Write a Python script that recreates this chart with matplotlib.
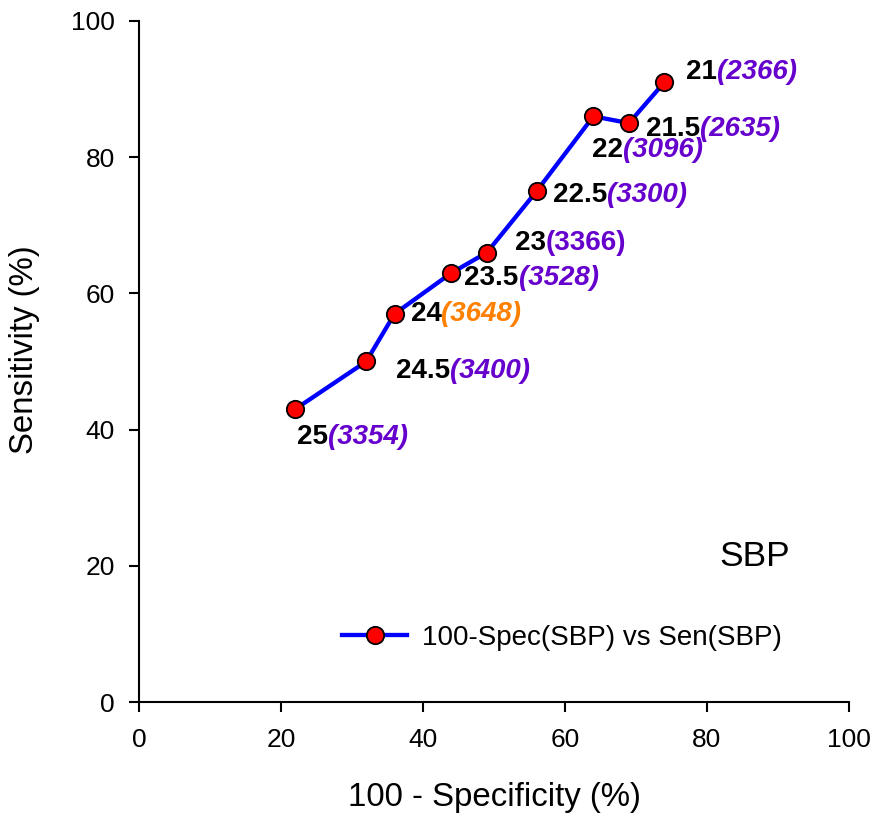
import matplotlib
matplotlib.use("Agg")
import matplotlib.pyplot as plt

plt.rcParams['font.family'] = ['Liberation Sans', 'DejaVu Sans']

spec = [22, 32, 36, 44, 49, 56, 64, 69, 74]
sens = [43, 50, 57, 63, 66, 75, 86, 85, 91]
cutoffs = ['25', '24.5', '24', '23.5', '23', '22.5', '22', '21.5', '21']
counts = ['3354', '3400', '3648', '3528', '3366', '3300', '3096', '2635', '2366']

purple = '#6600CC'
orange = '#FF8000'
count_colors = [purple, purple, orange, purple, purple, purple, purple, purple, purple]
count_styles = ['italic', 'italic', 'italic', 'italic', 'normal', 'italic', 'italic', 'italic', 'italic']
# label offsets (pixels) from each point
offsets = [(2, -28), (30, -10), (16, 0), (13, -5), (28, 10), (16, -4), (-1, -34), (17, -6), (22, 10)]

fig = plt.figure(figsize=(8.72, 8.16), dpi=100)
ax = fig.add_axes([0.1594, 0.1397, 0.8142, 0.8346])

ax.plot(spec, sens, color='blue', lw=3.1, marker='o', ms=12.5, mfc='red',
        mec='black', mew=1.3, label='100-Spec(SBP) vs Sen(SBP)', zorder=3)

for x, y, c, n, col, sty, off in zip(spec, sens, cutoffs, counts, count_colors, count_styles, offsets):
    t1 = ax.annotate(c, xy=(x, y), xytext=off, textcoords='offset pixels',
                     ha='left', va='center', fontsize=20, fontweight='bold', color='black')
    ax.annotate('(' + n + ')', xy=(1, 0), xycoords=t1, ha='left', va='bottom',
                fontsize=20, fontweight='bold', style=sty, color=col)

ax.text(0.818, 0.2, 'SBP', transform=ax.transAxes, fontsize=25.5, ha='left', va='baseline')

ax.set_xlim(0, 100)
ax.set_ylim(0, 100)
ax.set_xticks(range(0, 101, 20))
ax.set_yticks(range(0, 101, 20))
ax.spines['top'].set_visible(False)
ax.spines['right'].set_visible(False)
for s in ['left', 'bottom']:
    ax.spines[s].set_linewidth(1.5)
ax.tick_params(direction='out', length=7.5, width=1.5, labelsize=19)
ax.tick_params(axis='x', pad=11)
ax.tick_params(axis='y', pad=10)

ax.set_xlabel('100 - Specificity (%)', fontsize=23.8, labelpad=22)
ax.set_ylabel('Sensitivity (%)', fontsize=23.8)
ax.yaxis.set_label_coords(-0.139, 0.517)

ax.legend(loc='center left', bbox_to_anchor=(0.286, 0.094), frameon=False,
          fontsize=20, borderpad=0, borderaxespad=0, handlelength=2.34,
          handletextpad=0.54)

fig.savefig('out.png', dpi=100)
